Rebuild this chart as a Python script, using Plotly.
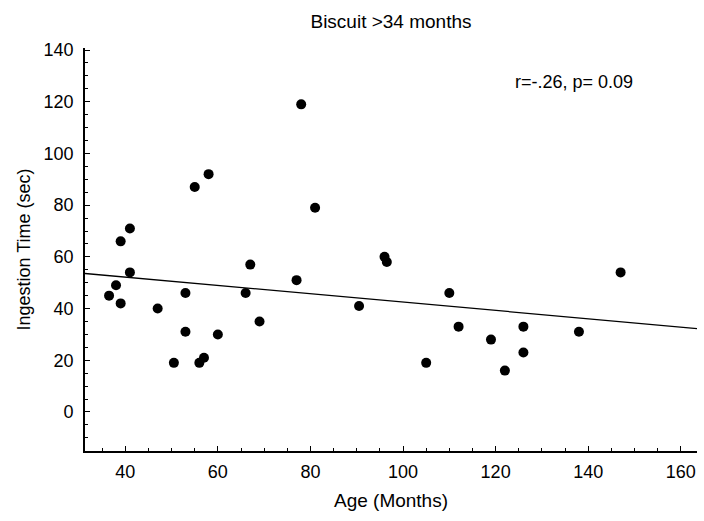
import plotly.graph_objects as go

# Age (months) and ingestion time (sec) for each child
age_months = [36.5, 38, 39, 39, 41, 41, 47, 50.5, 53, 53, 55, 56, 57, 58, 60,
              66, 67, 69, 77, 78, 81, 90.5, 96, 96.5, 105, 110, 112, 119, 122,
              126, 126, 138, 147]
ingestion_sec = [45, 49, 66, 42, 71, 54, 40, 19, 46, 31, 87, 19, 21, 92, 30,
                 46, 57, 35, 51, 119, 79, 41, 60, 58, 19, 46, 33, 28, 16,
                 33, 23, 31, 54]

# Least-squares line as reported with the statistics
line_intercept = 58.6
line_slope = -0.161
x_range = [31.3, 163.5]
y_range = [-15.1, 140.8]
line_x = list(x_range)
line_y = [line_intercept + line_slope * x for x in line_x]

stats_text = "r=-.26, p= 0.09"
title_text = "Biscuit >34 months"
x_title = "Age (Months)"
y_title = "Ingestion Time (sec)"
x_ticks = [40, 60, 80, 100, 120, 140, 160]
y_ticks = [0, 20, 40, 60, 80, 100, 120, 140]

font_family = "Liberation Sans, Arial, sans-serif"

fig = go.Figure()
fig.add_trace(go.Scatter(
    x=line_x, y=line_y, mode="lines",
    line=dict(color="black", width=1.3), hoverinfo="skip"))
fig.add_trace(go.Scatter(
    x=age_months, y=ingestion_sec, mode="markers",
    marker=dict(color="black", size=10, line=dict(width=0))))

axis_common = dict(
    showgrid=False, zeroline=False, showline=True, linecolor="black",
    linewidth=1.6, ticks="inside", ticklen=5, tickwidth=1.3, tickcolor="black",
    tickfont=dict(family=font_family, size=18, color="black"),
    minor=dict(ticks="inside", ticklen=3, tickwidth=1.2, tickcolor="black", dtick=5),
)

fig.update_layout(
    width=704, height=521,
    margin=dict(l=85, r=7, t=48, b=70),
    paper_bgcolor="white", plot_bgcolor="white",
    showlegend=False,
    font=dict(family=font_family, color="black"),
    title=dict(text=title_text, x=0.5, xanchor="center", xref="paper",
               y=1 - 21 / 521, yanchor="middle",
               font=dict(family=font_family, size=19, color="black")),
    xaxis=dict(range=x_range, tickvals=x_ticks, ticklabelstandoff=4,
               title=dict(text=x_title, font=dict(family=font_family, size=19),
                          standoff=12),
               **axis_common),
    yaxis=dict(range=y_range, tickvals=y_ticks, ticklabelstandoff=6,
               title=dict(text=y_title, font=dict(family=font_family, size=18),
                          standoff=8),
               **axis_common),
    annotations=[dict(text=stats_text, x=635, y=82, xref="paper", yref="paper",
                      showarrow=False, xanchor="right", yanchor="middle",
                      font=dict(family=font_family, size=18, color="black"))],
)
# Place the statistics label in pixel terms relative to the plot area
plot_w = 704 - 85 - 7
plot_h = 521 - 48 - 70
fig.layout.annotations[0].x = (635 - 85) / plot_w
fig.layout.annotations[0].y = 1 - (82 - 48) / plot_h

fig.write_html("out.html")
